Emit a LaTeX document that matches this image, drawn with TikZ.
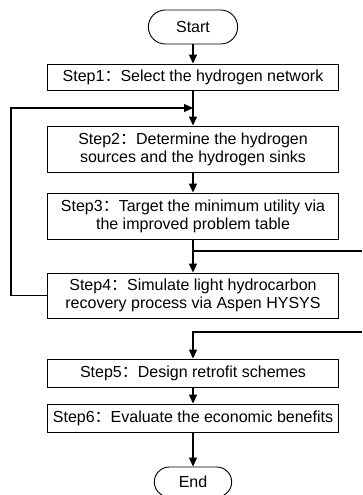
\documentclass[tikz,border=0pt]{standalone}
\usepackage{fontspec}
\setmainfont{Liberation Sans}
\newfontfamily\cjk{Noto Sans CJK SC}
\usetikzlibrary{arrows.meta,positioning,shapes.misc,calc}
\newcommand\cln{{\cjk ：}}
\tikzset{
  >={Triangle[length=9pt,width=8pt]},
  stepbox/.style={draw,line width=0.9pt,minimum width=291pt,minimum height=#1,
    align=center,inner sep=2pt,font=\fontsize{16}{18}\selectfont},
  stepbox/.default=27pt,
  term/.style={rounded rectangle,draw,line width=0.9pt,minimum width=#1,
    minimum height=30pt,font=\fontsize{16}{18}\selectfont},
  flow/.style={->,line width=1.3pt},
  link/.style={line width=1.3pt},
}
\begin{document}
\begin{tikzpicture}[x=1pt,y=1pt]
  \useasboundingbox (0,0) rectangle (362,-495);
  \node[term=96pt,minimum height=34pt] (start) at (193,-27) {Start};
  \foreach \t/\y/\h [count=\i] in {
    {Step1\cln Select the hydrogen network}/77/26pt,
    {Step2\cln Determine the hydrogen\\sources and the hydrogen sinks}/149/46pt,
    {Step3\cln Target the minimum utility via\\the improved problem table}/216/46pt,
    {Step4\cln Simulate light hydrocarbon\\recovery process via Aspen HYSYS}/295.5/45pt,
    {Step5\cln Design retrofit schemes}/373/28pt,
    {Step6\cln Evaluate the economic benefits}/418/28pt}{
    \node[stepbox=\h] (s\i) at (193,-\y) {\t};
  }
  \node[term=84pt] (end) at (193,-482) {End};
  % main line
  \foreach \a/\b in {start/s1,s1/s2,s2/s3,s3/s4,s5/s6,s6/end}
    \draw[flow] (\a.south) -- (\a.south |- \b.north);
  % loop back from step 4
  \coordinate (j1) at ($(s1.south)!.5!(s2.north)$);
  \draw[flow] (s4.west) -- ++(-36,0) |- (j1);
  % side lines
  \coordinate (j2) at (193,-251);
  \coordinate (r1) at (362,-251);
  \coordinate (r2) at (362,-332);
  \draw[link] (j2) -- (r1);
  \draw[flow] (r2) -| (s5.north);
\end{tikzpicture}
\end{document}
